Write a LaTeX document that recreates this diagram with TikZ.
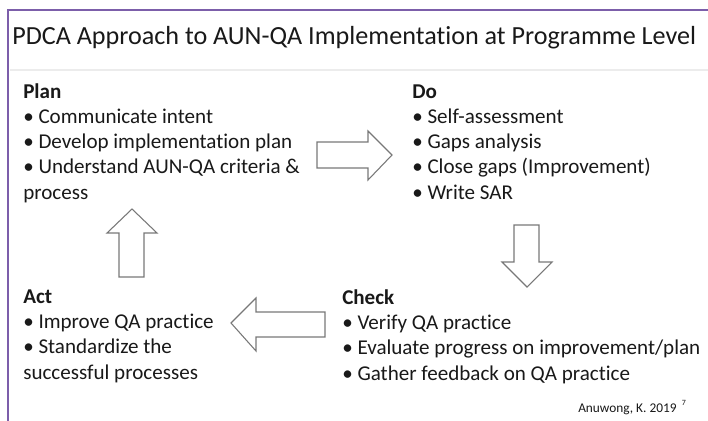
\documentclass[tikz,border=0pt]{standalone}
\usepackage{fontspec}
\setmainfont{Carlito}[Ligatures=NoCommon]
\begin{document}
\definecolor{framepurple}{RGB}{124,94,170}
\definecolor{inkdark}{RGB}{25,25,25}
\definecolor{arrowgray}{RGB}{120,120,120}
\definecolor{rulegray}{RGB}{236,236,236}
\begin{tikzpicture}[x=0.75pt,y=-0.75pt,
  block/.style={anchor=base west,inner sep=0pt,text=inkdark,
    font=\fontsize{15.8}{19}\selectfont},
  bigarrow/.style={draw=arrowgray,fill=white,line width=0.8pt,line join=miter}]
\useasboundingbox[fill=white] (0,0) rectangle (708,421);
% slide frame and title rule
\draw[rulegray,line width=1pt] (10,70) -- (708,70);
\draw[framepurple,line width=2.2pt] (8,421) -- (8,10) -- (708,10);
% title
\node[anchor=base west,inner sep=0pt,text=inkdark,
  font=\fontsize{19.6}{23}\selectfont] (title) at (12,45)
  {PDCA Approach to AUN-QA Implementation at Programme Level};
% the four PDCA stages
\node[block] (plan) at (23,98) {\begin{tabular}[t]{@{}l@{}}
  \textbf{Plan}\\
  • Communicate intent\\
  • Develop implementation plan\\
  • Understand AUN-QA criteria \&\\
  process\end{tabular}};
\node[block] (do) at (412,98) {\begin{tabular}[t]{@{}l@{}}
  \textbf{Do}\\
  • Self-assessment\\
  • Gaps analysis\\
  • Close gaps (Improvement)\\
  • Write SAR\end{tabular}};
\node[block] (act) at (23,303) {\begin{tabular}[t]{@{}l@{}}
  \textbf{Act}\\
  • Improve QA practice\\
  • Standardize the\\
  successful processes\end{tabular}};
\node[block] (check) at (342,304) {\begin{tabular}[t]{@{}l@{}}
  \textbf{Check}\\
  • Verify QA practice\\
  • Evaluate progress on improvement/plan\\
  • Gather feedback on QA practice\end{tabular}};
% block arrows between the stages
\draw[bigarrow] (317,142) -- (368,142) -- (368,131) -- (392,155)
  -- (368,180) -- (368,168) -- (317,168) -- cycle;
\draw[bigarrow] (514,225) -- (539,225) -- (539,262) -- (552,262)
  -- (527,287) -- (502,262) -- (514,262) -- cycle;
\draw[bigarrow] (325,312) -- (256,312) -- (256,298) -- (231,323)
  -- (256,351) -- (256,337) -- (325,337) -- cycle;
\draw[bigarrow] (119,277) -- (119,233) -- (107,233) -- (132,209)
  -- (157,233) -- (144,233) -- (144,277) -- cycle;
% source note
\node[anchor=base west,inner sep=0pt,text=inkdark,
  font=\fontsize{10}{12}\selectfont] (cite) at (578,412)
  {Anuwong, K. 2019\hspace{4pt}\raisebox{5pt}{\fontsize{6}{7}\selectfont 7}};
\end{tikzpicture}
\end{document}
